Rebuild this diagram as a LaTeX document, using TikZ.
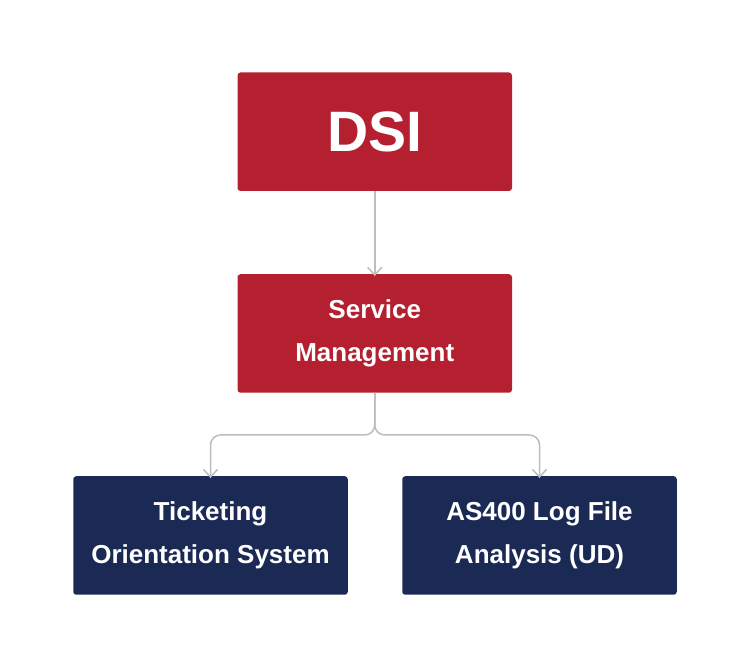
\documentclass[tikz,border=0pt]{standalone}
\usepackage{fontspec}
\setmainfont{Liberation Sans}
\usetikzlibrary{arrows.meta}
\definecolor{boxred}{HTML}{B52030}
\definecolor{boxnavy}{HTML}{1B2A55}
\definecolor{conngrey}{HTML}{BDBDBD}
\tikzset{
  box/.style={draw=none, rounded corners=3pt, minimum width=274.5pt, minimum height=118.5pt,
    text=white, align=center, font=\fontsize{26}{43}\selectfont\bfseries, inner sep=0pt},
  redbox/.style={box, fill=boxred},
  navybox/.style={box, fill=boxnavy},
  conn/.style={draw=conngrey, line width=1.5pt, -{Straight Barb[length=7.5pt,width=14pt]}}
}
\begin{document}
\begin{tikzpicture}[x=1pt,y=1pt]
\useasboundingbox (0,0) rectangle (750,668);
\node[redbox, font=\fontsize{57}{60}\selectfont\bfseries] (dsi) at (374.75,536.25) {DSI};
\node[redbox] (sm) at (374.75,334.5) {Service\\Management};
\node[navybox] (tos) at (210.5,132.5) {Ticketing\\Orientation System};
\node[navybox] (as4) at (539.5,132.5) {AS400 Log File\\Analysis (UD)};
\coordinate (split) at (374.75,233);
\draw[conn] (dsi.south) -- ([yshift=-2pt]sm.north);
\draw[conn, rounded corners=10pt] (sm.south) |- (tos.north |- split) -- ([yshift=-2pt]tos.north);
\draw[conn, rounded corners=10pt] (sm.south) |- (as4.north |- split) -- ([yshift=-2pt]as4.north);
\end{tikzpicture}
\end{document}
